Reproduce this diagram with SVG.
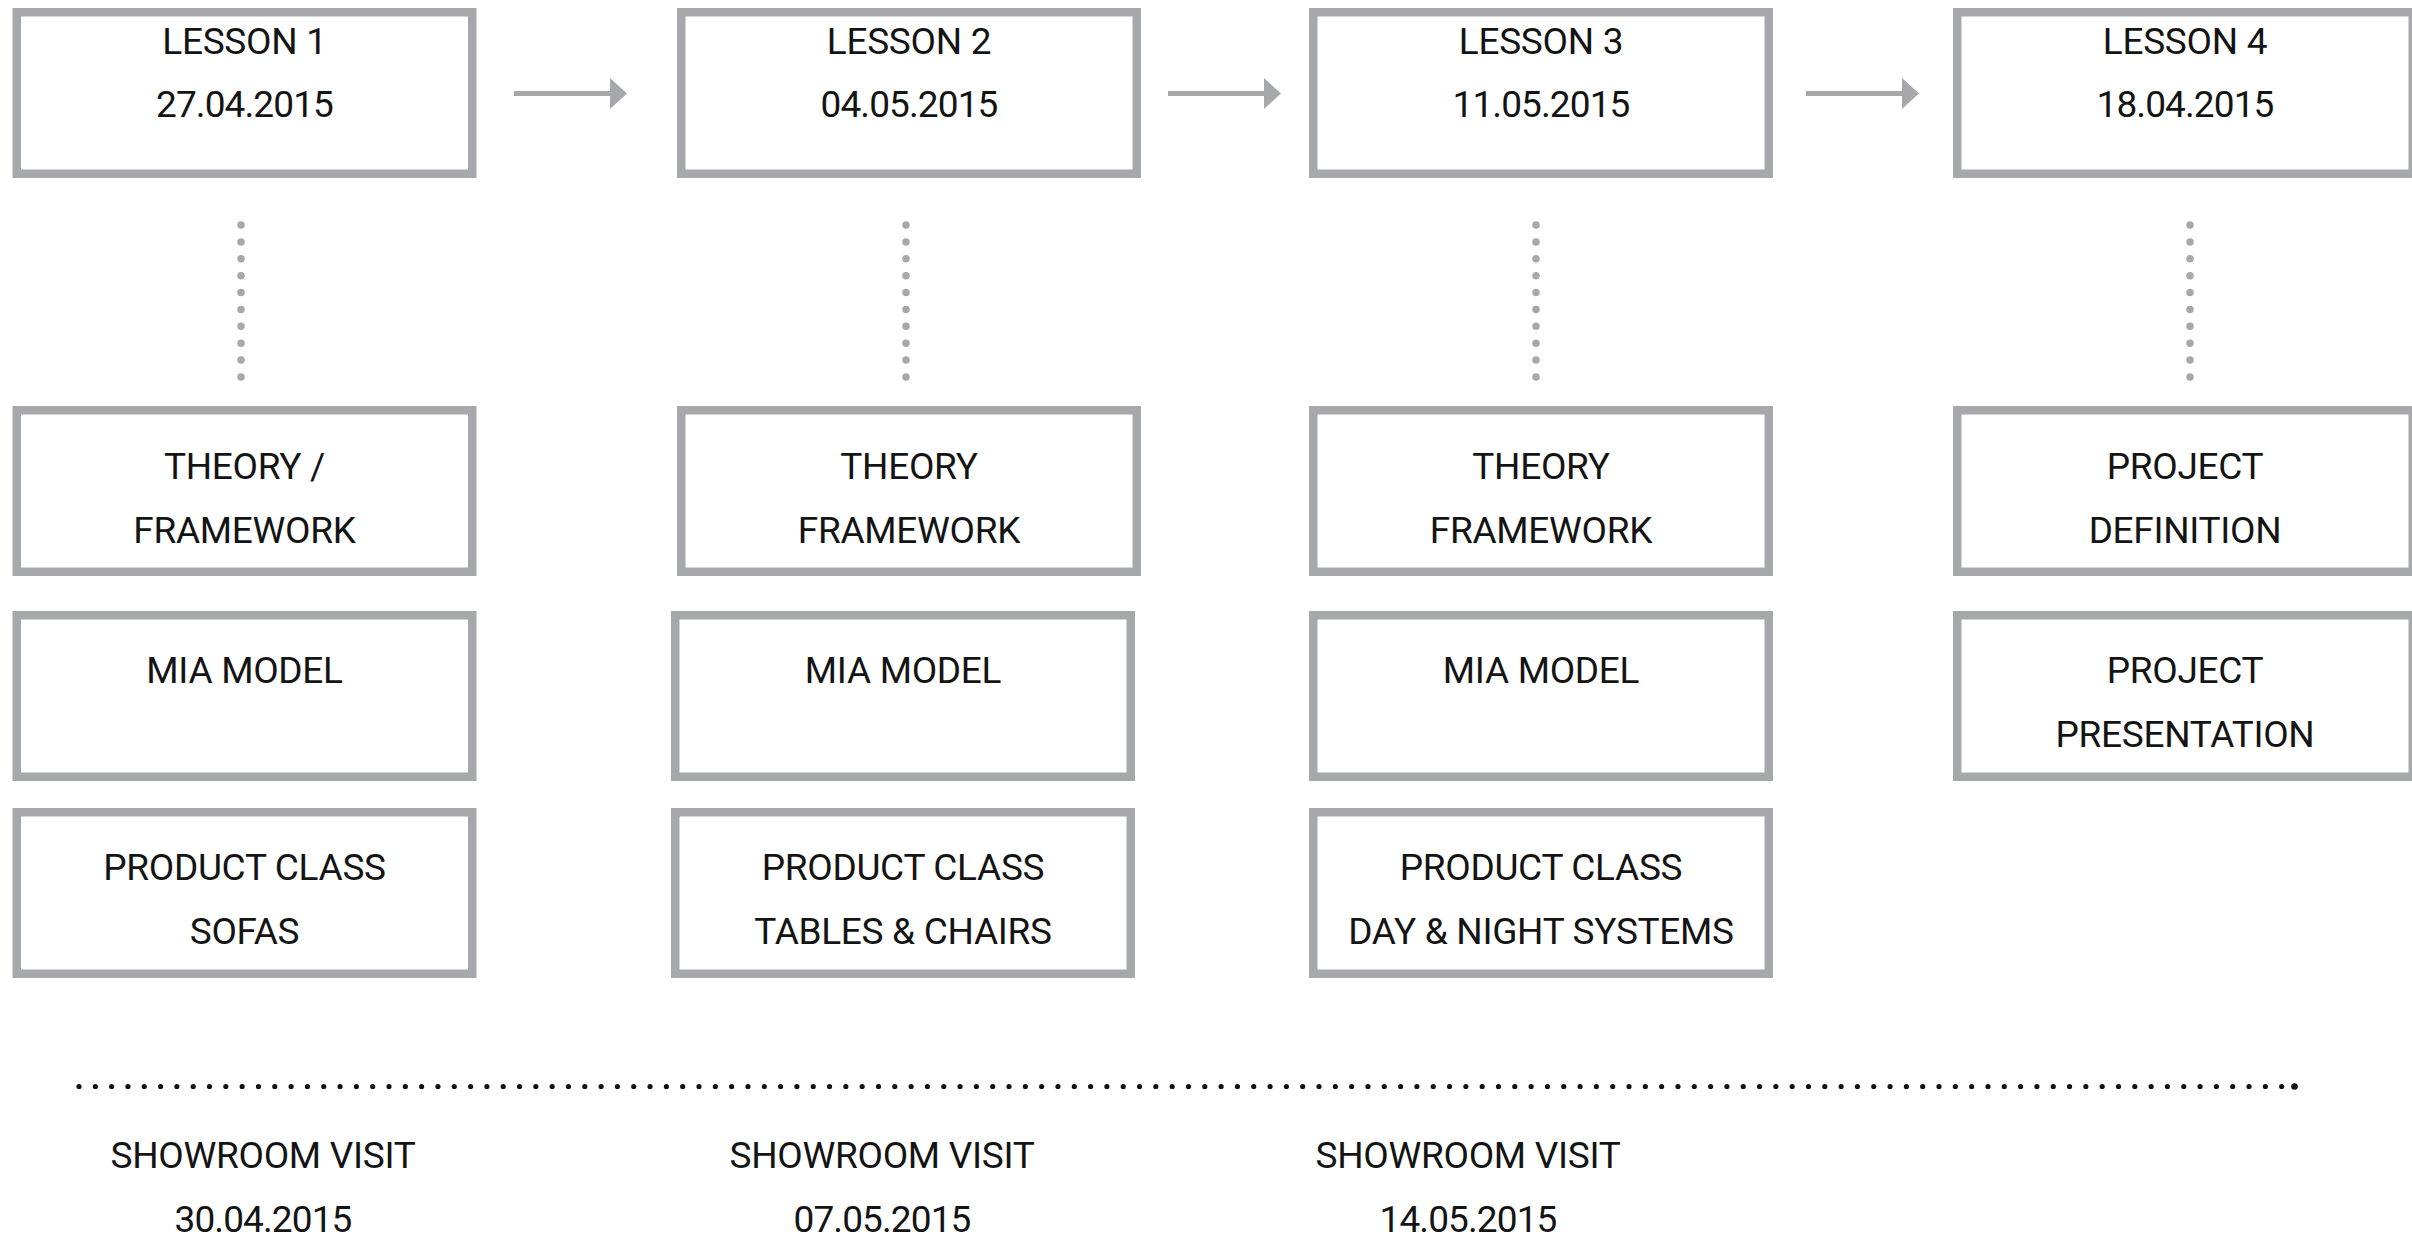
<svg xmlns="http://www.w3.org/2000/svg" width="2412" height="1239" viewBox="0 0 2412 1239">
  <style>
    .box { fill: #ffffff; stroke: #a7a8ab; stroke-width: 8.5; }
    .lbl { font-family: Roboto, "Liberation Sans", sans-serif; font-size: 37px; font-weight: 400; fill: #141414; text-anchor: middle; letter-spacing: -0.3px; }
    .num { letter-spacing: -0.9px; }
    .arrow { stroke: #a7a8ab; stroke-width: 5; fill: none; marker-end: url(#head); }
    .vdots { stroke: #a7a8ab; stroke-width: 7.5; stroke-linecap: round; stroke-dasharray: 0 16.89; fill: none; }
    .hdots { stroke: #111111; stroke-width: 5.2; stroke-linecap: round; stroke-dasharray: 0 16.316; fill: none; }
  </style>
  <defs>
    <marker id="head" markerUnits="userSpaceOnUse" viewBox="0 0 17 31" markerWidth="17" markerHeight="31" refX="2" refY="15.5" orient="auto">
      <path d="M0,0 L17,15.5 L0,31 Z" fill="#a7a8ab"/>
    </marker>
  </defs>
  <rect width="2412" height="1239" fill="#ffffff"/>

  <!-- connectors: lesson arrows, vertical dotted links, showroom timeline -->
  <g id="connectors">
    <line class="arrow" x1="514" y1="93.5" x2="612" y2="93.5"/>
    <line class="arrow" x1="1168" y1="93.5" x2="1266" y2="93.5"/>
    <line class="arrow" x1="1806" y1="93.5" x2="1904" y2="93.5"/>
    <line class="vdots" x1="241" y1="225" x2="241" y2="378"/>
    <line class="vdots" x1="906" y1="225" x2="906" y2="378"/>
    <line class="vdots" x1="1536" y1="225" x2="1536" y2="378"/>
    <line class="vdots" x1="2190" y1="225" x2="2190" y2="378"/>
    <line class="hdots" x1="79" y1="1086.5" x2="2282.5" y2="1086.5"/>
    <circle cx="2294.5" cy="1086.5" r="3.3" fill="#111111"/>
  </g>

  <!-- lessons -->
  <g id="lesson1">
    <rect class="box" x="16.75" y="12.25" width="455.5" height="161.5"/>
    <text class="lbl" x="244.5" y="53.5">LESSON 1</text>
    <text class="lbl num" x="244.5" y="117">27.04.2015</text>
  </g>
  <g id="lesson2">
    <rect class="box" x="681.25" y="12.25" width="455.5" height="161.5"/>
    <text class="lbl" x="909" y="53.5">LESSON 2</text>
    <text class="lbl num" x="909" y="117">04.05.2015</text>
  </g>
  <g id="lesson3">
    <rect class="box" x="1313.25" y="12.25" width="455.5" height="161.5"/>
    <text class="lbl" x="1541" y="53.5">LESSON 3</text>
    <text class="lbl num" x="1541" y="117">11.05.2015</text>
  </g>
  <g id="lesson4">
    <rect class="box" x="1957.25" y="12.25" width="455.5" height="161.5"/>
    <text class="lbl" x="2185" y="53.5">LESSON 4</text>
    <text class="lbl num" x="2185" y="117">18.04.2015</text>
  </g>

  <!-- column 1 -->
  <g id="theory1">
    <rect class="box" x="16.75" y="410.25" width="455.5" height="161.5"/>
    <text class="lbl" x="244.5" y="479">THEORY /</text>
    <text class="lbl" x="244.5" y="543">FRAMEWORK</text>
  </g>
  <g id="mia1">
    <rect class="box" x="16.75" y="615.25" width="455.5" height="161.5"/>
    <text class="lbl" x="244.5" y="683">MIA MODEL</text>
  </g>
  <g id="product1">
    <rect class="box" x="16.75" y="812.25" width="455.5" height="161.5"/>
    <text class="lbl" x="244.5" y="880">PRODUCT CLASS</text>
    <text class="lbl" x="244.5" y="944">SOFAS</text>
  </g>

  <!-- column 2 -->
  <g id="theory2">
    <rect class="box" x="681.25" y="410.25" width="455.5" height="161.5"/>
    <text class="lbl" x="909" y="479">THEORY</text>
    <text class="lbl" x="909" y="543">FRAMEWORK</text>
  </g>
  <g id="mia2">
    <rect class="box" x="675.25" y="615.25" width="455.5" height="161.5"/>
    <text class="lbl" x="903" y="683">MIA MODEL</text>
  </g>
  <g id="product2">
    <rect class="box" x="675.25" y="812.25" width="455.5" height="161.5"/>
    <text class="lbl" x="903" y="880">PRODUCT CLASS</text>
    <text class="lbl" x="903" y="944">TABLES &amp; CHAIRS</text>
  </g>

  <!-- column 3 -->
  <g id="theory3">
    <rect class="box" x="1313.25" y="410.25" width="455.5" height="161.5"/>
    <text class="lbl" x="1541" y="479">THEORY</text>
    <text class="lbl" x="1541" y="543">FRAMEWORK</text>
  </g>
  <g id="mia3">
    <rect class="box" x="1313.25" y="615.25" width="455.5" height="161.5"/>
    <text class="lbl" x="1541" y="683">MIA MODEL</text>
  </g>
  <g id="product3">
    <rect class="box" x="1313.25" y="812.25" width="455.5" height="161.5"/>
    <text class="lbl" x="1541" y="880">PRODUCT CLASS</text>
    <text class="lbl" x="1541" y="944">DAY &amp; NIGHT SYSTEMS</text>
  </g>

  <!-- column 4 -->
  <g id="projectDefinition">
    <rect class="box" x="1957.25" y="410.25" width="455.5" height="161.5"/>
    <text class="lbl" x="2185" y="479">PROJECT</text>
    <text class="lbl" x="2185" y="543">DEFINITION</text>
  </g>
  <g id="projectPresentation">
    <rect class="box" x="1957.25" y="615.25" width="455.5" height="161.5"/>
    <text class="lbl" x="2185" y="683">PROJECT</text>
    <text class="lbl" x="2185" y="747">PRESENTATION</text>
  </g>

  <!-- showroom visits -->
  <g id="showroom1">
    <text class="lbl" x="263" y="1168">SHOWROOM VISIT</text>
    <text class="lbl num" x="263" y="1231.5">30.04.2015</text>
  </g>
  <g id="showroom2">
    <text class="lbl" x="882" y="1168">SHOWROOM VISIT</text>
    <text class="lbl num" x="882" y="1231.5">07.05.2015</text>
  </g>
  <g id="showroom3">
    <text class="lbl" x="1468" y="1168">SHOWROOM VISIT</text>
    <text class="lbl num" x="1468" y="1231.5">14.05.2015</text>
  </g>
</svg>
